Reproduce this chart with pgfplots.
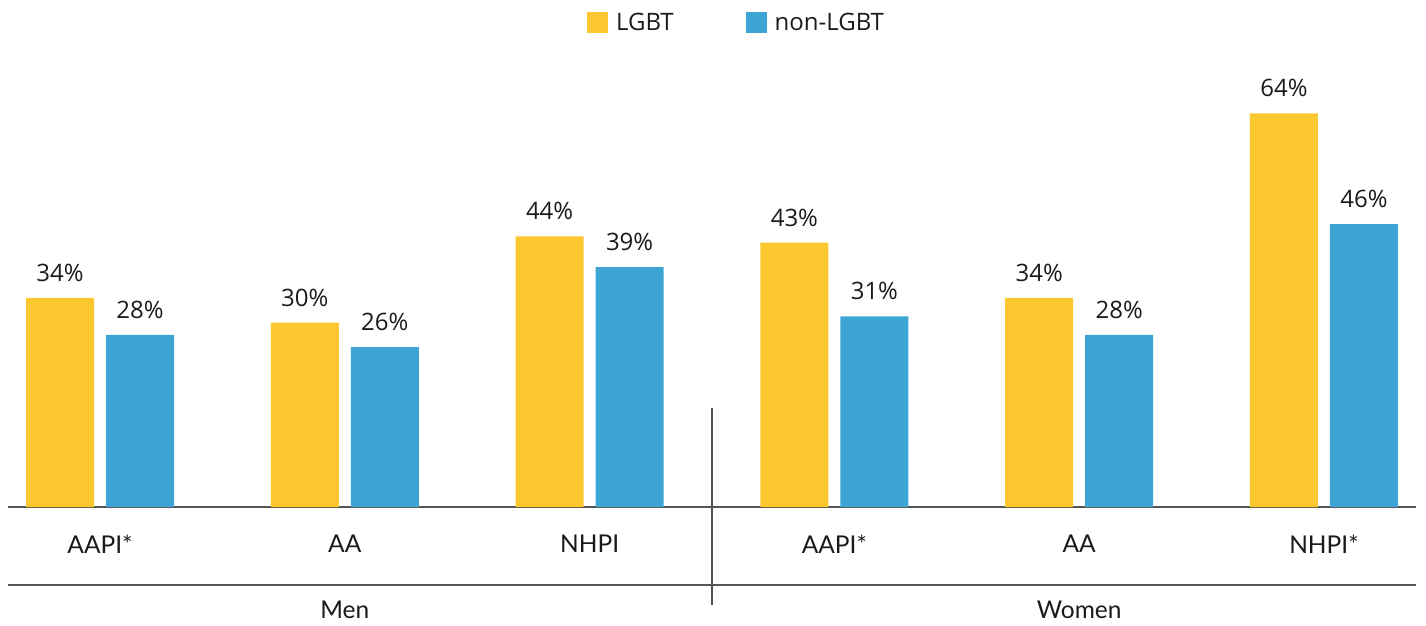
\documentclass[border=0pt]{standalone}
\usepackage{pgfplots}
\pgfplotsset{compat=1.18}
\usepackage{fontspec}
\setmainfont{Open Sans}
\newfontfamily\latof{Lato}
\definecolor{lgbt}{HTML}{FDC82F}
\definecolor{nonlgbt}{HTML}{3DA5D4}
\definecolor{rulec}{HTML}{555555}
\definecolor{txt}{HTML}{1A1A1A}
\newcommand{\bigf}{\fontsize{24}{29}\selectfont}
\newcommand{\catf}{\latof\fontsize{24.5}{29}\selectfont}
\begin{document}
\begin{tikzpicture}
\path[use as bounding box] (-8pt,-118pt) rectangle (1418pt,507pt);
\begin{axis}[
  at={(0pt,0pt)}, anchor=south west, scale only axis,
  width=1408pt, height=460pt,
  xmin=-0.376, xmax=5.376, ymin=0, ymax=74.8,
  axis x line*=bottom, axis y line=none,
  x axis line style={rulec, line width=1.3pt, -},
  xtick=\empty, ytick=\empty,
  clip=false,
  ybar=12pt, bar width=68pt,
  /pgf/number format/assume math mode=true,
  nodes near coords={\pgfmathprintnumber{\pgfplotspointmeta}\%},
  nodes near coords style={anchor=south, inner sep=0pt, yshift=16pt, font=\bigf, text=txt},
  legend style={at={(rel axis cs:0.5174,1.054)}, anchor=center, draw=none, fill=none,
    font=\bigf, text=txt, legend columns=2,
    /tikz/every even column/.append style={column sep=70pt}},
  legend cell align=left,
]
\addplot[fill=lgbt, draw=none,
  legend image code/.code={\fill[lgbt] (0pt,-10.5pt) rectangle (21pt,10.5pt); \path (0pt,0pt) -- (27pt,0pt);}]
  coordinates {(0,34) (1,30) (2,44) (3,43) (4,34) (5,64)};
\addplot[fill=nonlgbt, draw=none,
  legend image code/.code={\fill[nonlgbt] (0pt,-10.5pt) rectangle (21pt,10.5pt); \path (0pt,0pt) -- (27pt,0pt);}]
  coordinates {(0,28) (1,26) (2,39) (3,31) (4,28) (5,46)};
\legend{LGBT, non-LGBT}
\node[font=\catf, text=txt] at (axis cs:0,0) [yshift=-37pt] {AAPI*};
\node[font=\catf, text=txt] at (axis cs:1,0) [yshift=-37pt] {AA};
\node[font=\catf, text=txt] at (axis cs:2,0) [yshift=-37pt] {NHPI};
\node[font=\catf, text=txt] at (axis cs:3,0) [yshift=-37pt] {AAPI*};
\node[font=\catf, text=txt] at (axis cs:4,0) [yshift=-37pt] {AA};
\node[font=\catf, text=txt] at (axis cs:5,0) [yshift=-37pt] {NHPI*};
\node[font=\catf, text=txt] at (axis cs:1,0) [yshift=-103pt] {Men};
\node[font=\catf, text=txt] at (axis cs:4,0) [yshift=-103pt] {Women};
\end{axis}
\draw[rulec, line width=1.3pt] (0pt,-78pt) -- (1408pt,-78pt);
\draw[rulec, line width=1.1pt] (704pt,99pt) -- (704pt,-98pt);
\end{tikzpicture}
\end{document}
